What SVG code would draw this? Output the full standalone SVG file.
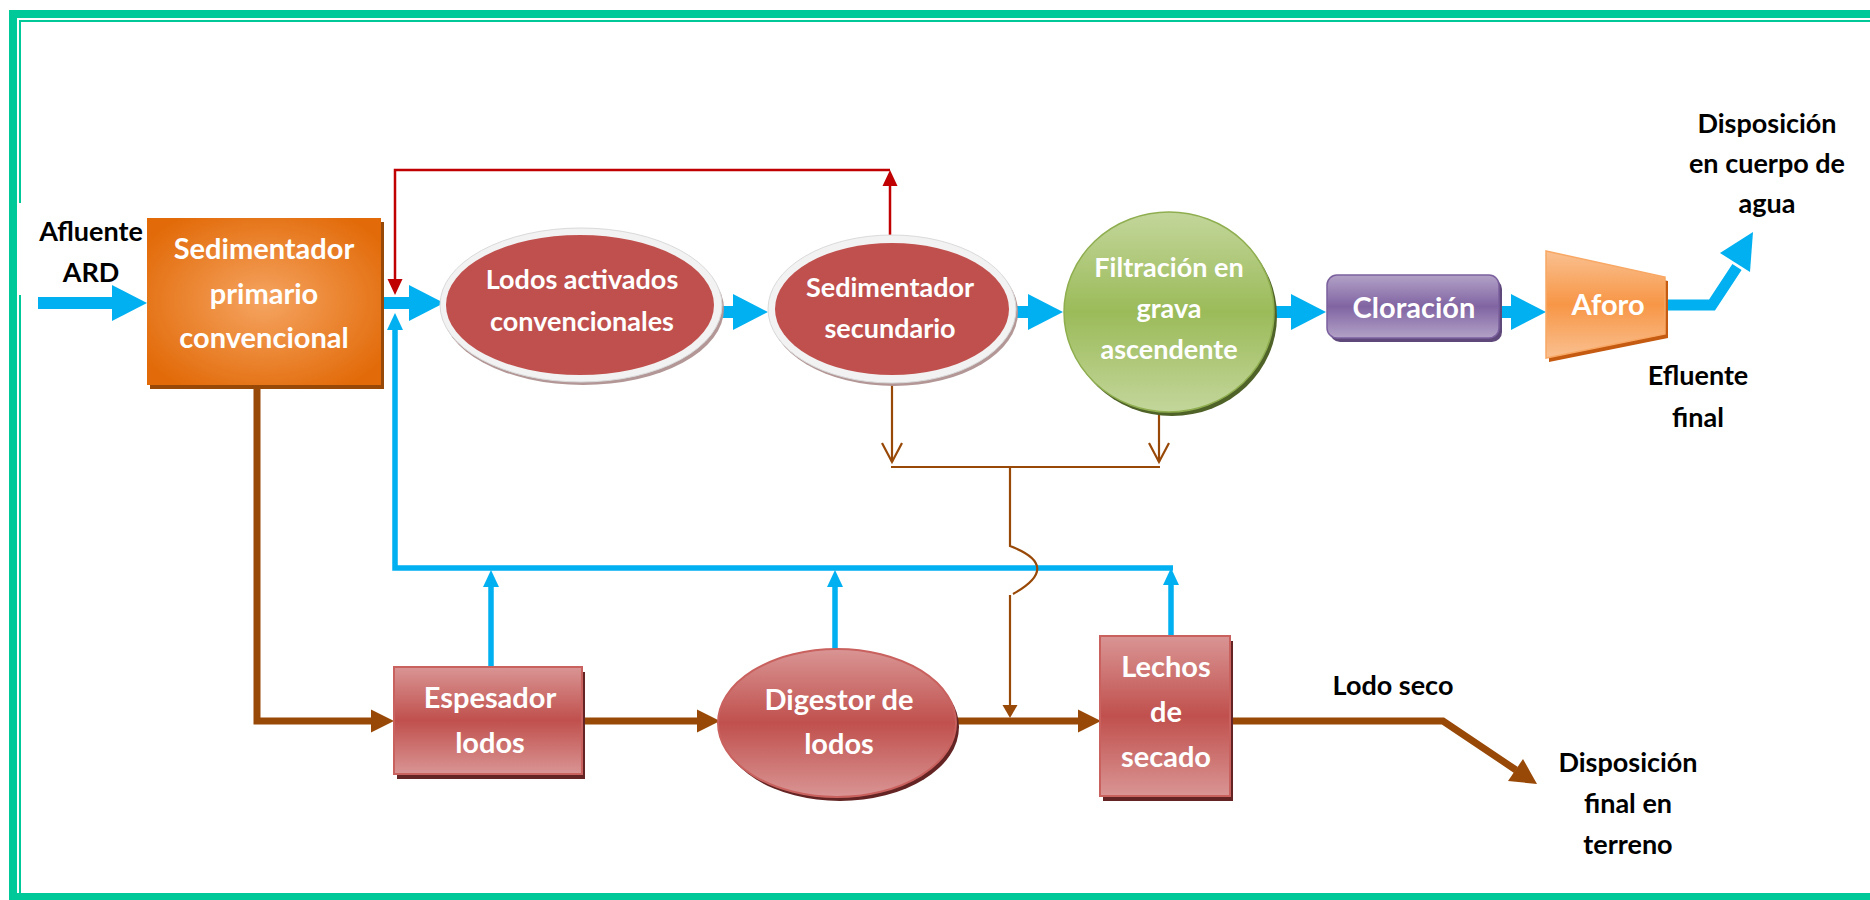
<svg xmlns="http://www.w3.org/2000/svg" width="1870" height="900" viewBox="0 0 1870 900">
<style>
.nt{font-family:Lato,"Liberation Sans",sans-serif;font-weight:bold;fill:#ffffff;text-anchor:middle}
.lb{font-family:Lato,"Liberation Sans",sans-serif;font-weight:bold;fill:#000000;text-anchor:middle;font-size:27px}
.s29{font-size:27px}
.s31{font-size:29px}
.blueT{fill:none;stroke:#00B0F0;stroke-width:12}
.blueF{fill:none;stroke:#00B0F0;stroke-width:5.5}
.red{fill:none;stroke:#C00000;stroke-width:2.5}
.brT{fill:none;stroke:#984807;stroke-width:2.2}
.brK{fill:none;stroke:#984807;stroke-width:7}
.rim{fill:#F2F2F2;stroke:#DADADA;stroke-width:1}
.rimsh{fill:#B39696}
</style>
<defs>
<radialGradient id="gOr" cx="50%" cy="50%" r="62%">
<stop offset="0" stop-color="#F5A461"/><stop offset="1" stop-color="#E26A08"/>
</radialGradient>
<linearGradient id="gRed" x1="0" y1="0" x2="0" y2="1">
<stop offset="0" stop-color="#D99594"/><stop offset="0.5" stop-color="#C0504D"/><stop offset="1" stop-color="#D99594"/>
</linearGradient>
<linearGradient id="gGr" x1="0" y1="0" x2="0" y2="1">
<stop offset="0" stop-color="#C3D69B"/><stop offset="0.5" stop-color="#9BBB59"/><stop offset="1" stop-color="#C3D69B"/>
</linearGradient>
<linearGradient id="gPu" x1="0" y1="0" x2="0" y2="1">
<stop offset="0" stop-color="#B3A2C7"/><stop offset="0.5" stop-color="#8064A2"/><stop offset="1" stop-color="#B3A2C7"/>
</linearGradient>
<linearGradient id="gAf" x1="0" y1="0" x2="0" y2="1">
<stop offset="0" stop-color="#FAC090"/><stop offset="0.5" stop-color="#F79646"/><stop offset="1" stop-color="#FAC090"/>
</linearGradient>
<marker id="mBlueBig" markerUnits="userSpaceOnUse" markerWidth="36" markerHeight="37" refX="0" refY="18" orient="auto" overflow="visible">
<path d="M0,0 L35,18 L0,36 z" fill="#00B0F0"/>
</marker>
<marker id="mBlue" markerUnits="userSpaceOnUse" markerWidth="18" markerHeight="17" refX="0" refY="8" orient="auto" overflow="visible">
<path d="M0,0 L17,8 L0,16 z" fill="#00B0F0"/>
</marker>
<marker id="mRed" markerUnits="userSpaceOnUse" markerWidth="17" markerHeight="16" refX="0" refY="7.5" orient="auto" overflow="visible">
<path d="M0,0 L16,7.5 L0,15 z" fill="#C00000"/>
</marker>
<marker id="mBrK" markerUnits="userSpaceOnUse" markerWidth="24" markerHeight="24" refX="0" refY="11.5" orient="auto" overflow="visible">
<path d="M0,0 L23,11.5 L0,23 z" fill="#984807"/>
</marker>
<marker id="mBrV" markerUnits="userSpaceOnUse" markerWidth="20" markerHeight="21" refX="19" refY="10" orient="auto" overflow="visible">
<path d="M0,0 L19,10 L0,20" fill="none" stroke="#984807" stroke-width="2.2"/>
</marker>
<marker id="mBrS" markerUnits="userSpaceOnUse" markerWidth="14" markerHeight="16" refX="0" refY="7.5" orient="auto" overflow="visible">
<path d="M0,0 L13,7.5 L0,15 z" fill="#984807"/>
</marker>
</defs>

<g id="frame">
<rect x="13" y="14" width="1900" height="883" fill="none" stroke="#00C999" stroke-width="8"/>
<path d="M20,893 V295 M20,203 V21 H1870" fill="none" stroke="#00C999" stroke-width="2"/>
</g>

<g id="connectors">
<!-- blue main flow -->
<path class="blueT" d="M38,303 H112" marker-end="url(#mBlueBig)"/>
<path class="blueT" d="M381,303 H409" marker-end="url(#mBlueBig)"/>
<path class="blueT" d="M722,312 H733" marker-end="url(#mBlueBig)"/>
<path class="blueT" d="M1017,312 H1028" marker-end="url(#mBlueBig)"/>
<path class="blueT" d="M1275,312 H1291" marker-end="url(#mBlueBig)"/>
<path class="blueT" d="M1500,312 H1511" marker-end="url(#mBlueBig)"/>
<path d="M1665,305 H1712 L1737,267" fill="none" stroke="#00B0F0" stroke-width="11"/>
<polygon points="1753,232 1750,272 1720,253" fill="#00B0F0"/>
<!-- blue feedback -->
<path class="blueF" d="M1171,636 V585" marker-end="url(#mBlue)"/>
<path class="blueF" d="M1173,568 H395 V330" marker-end="url(#mBlue)"/>
<path class="blueF" d="M491,667 V587" marker-end="url(#mBlue)"/>
<path class="blueF" d="M835,649 V587" marker-end="url(#mBlue)"/>
<!-- red recirculation -->
<path class="red" d="M890,235 V186" marker-end="url(#mRed)"/>
<path class="red" d="M890,170 H395 V279" marker-end="url(#mRed)"/>
<!-- brown thin sludge -->
<path class="brT" d="M892,383 V462" marker-end="url(#mBrV)"/>
<path class="brT" d="M1159,410 V462" marker-end="url(#mBrV)"/>
<path class="brT" d="M891,467 H1160 M1010,467 V546 Q1063,566 1013,594"/>
<path class="brT" d="M1010,595 V705" marker-end="url(#mBrS)"/>
<!-- brown thick sludge -->
<path class="brK" d="M257,389 V721 H371" marker-end="url(#mBrK)"/>
<path class="brK" d="M582,721 H697" marker-end="url(#mBrK)"/>
<path class="brK" d="M957,721 H1078" marker-end="url(#mBrK)"/>
<path class="brK" d="M1230,721 H1443 L1516,770"/>
<polygon points="1537,784 1508,781 1523,759" fill="#984807"/>
</g>

<g id="sedimentador-primario">
<rect x="150" y="222" width="234" height="167" fill="#984807"/>
<rect x="147" y="218" width="234" height="167" fill="url(#gOr)"/>
<text class="nt s31"><tspan x="264" y="259">Sedimentador</tspan><tspan x="264" y="304">primario</tspan><tspan x="264" y="348">convencional</tspan></text>
</g>

<g id="lodos-activados">
<ellipse class="rimsh" cx="583" cy="309" rx="141" ry="76"/>
<ellipse class="rim" cx="581" cy="305" rx="141" ry="77"/>
<ellipse cx="580" cy="305" rx="134" ry="70" fill="#C0504D"/>
<text class="nt s29"><tspan x="582" y="289">Lodos activados</tspan><tspan x="582" y="331">convencionales</tspan></text>
</g>

<g id="sedimentador-secundario">
<ellipse class="rimsh" cx="894" cy="312" rx="124" ry="74"/>
<ellipse class="rim" cx="892" cy="309" rx="124" ry="74"/>
<ellipse cx="892" cy="309" rx="117" ry="66" fill="#C0504D"/>
<text class="nt s29"><tspan x="890" y="297">Sedimentador</tspan><tspan x="890" y="338">secundario</tspan></text>
</g>

<g id="filtracion">
<ellipse cx="1172" cy="316" rx="105" ry="100" fill="#4F6228"/>
<ellipse cx="1169" cy="312" rx="105" ry="100" fill="url(#gGr)" stroke="#8FAE4F" stroke-width="1.5"/>
<text class="nt s29"><tspan x="1169" y="277">Filtración en</tspan><tspan x="1169" y="318">grava</tspan><tspan x="1169" y="359">ascendente</tspan></text>
</g>

<g id="cloracion">
<rect x="1330" y="279" width="172" height="63" rx="10" fill="#5F497A"/>
<rect x="1327" y="275" width="172" height="63" rx="10" fill="url(#gPu)" stroke="#7B609E" stroke-width="1.5"/>
<text class="nt s31" x="1414" y="318">Cloración</text>
</g>

<g id="aforo">
<polygon points="1549,255 1668,281 1668,338 1549,362" fill="#C55A11"/>
<polygon points="1546,251 1665,277 1665,334 1546,358" fill="url(#gAf)" stroke="#F8A864" stroke-width="1.5"/>
<text class="nt s31" x="1608" y="315">Aforo</text>
</g>

<g id="espesador">
<rect x="397" y="672" width="188" height="107" fill="#632423"/>
<rect x="394" y="667" width="188" height="107" fill="url(#gRed)" stroke="#C9625F" stroke-width="2"/>
<text class="nt s31"><tspan x="490" y="708">Espesador</tspan><tspan x="490" y="753">lodos</tspan></text>
</g>

<g id="digestor">
<ellipse cx="840" cy="727" rx="119" ry="74" fill="#632423"/>
<ellipse cx="837" cy="723" rx="119" ry="74" fill="url(#gRed)" stroke="#C9625F" stroke-width="2"/>
<text class="nt s31"><tspan x="839" y="710">Digestor de</tspan><tspan x="839" y="754">lodos</tspan></text>
</g>

<g id="lechos">
<rect x="1103" y="641" width="130" height="160" fill="#632423"/>
<rect x="1100" y="636" width="130" height="160" fill="url(#gRed)" stroke="#C9625F" stroke-width="2"/>
<text class="nt s31"><tspan x="1166" y="677">Lechos</tspan><tspan x="1166" y="722">de</tspan><tspan x="1166" y="767">secado</tspan></text>
</g>

<g id="labels">
<text class="lb"><tspan x="91" y="241">Afluente</tspan><tspan x="91" y="282">ARD</tspan></text>
<text class="lb"><tspan x="1767" y="133">Disposición</tspan><tspan x="1767" y="173">en cuerpo de</tspan><tspan x="1767" y="213">agua</tspan></text>
<text class="lb"><tspan x="1698" y="385">Efluente</tspan><tspan x="1698" y="427">final</tspan></text>
<text class="lb" x="1393" y="695">Lodo seco</text>
<text class="lb"><tspan x="1628" y="772">Disposición</tspan><tspan x="1628" y="813">final en</tspan><tspan x="1628" y="854">terreno</tspan></text>
</g>
</svg>
